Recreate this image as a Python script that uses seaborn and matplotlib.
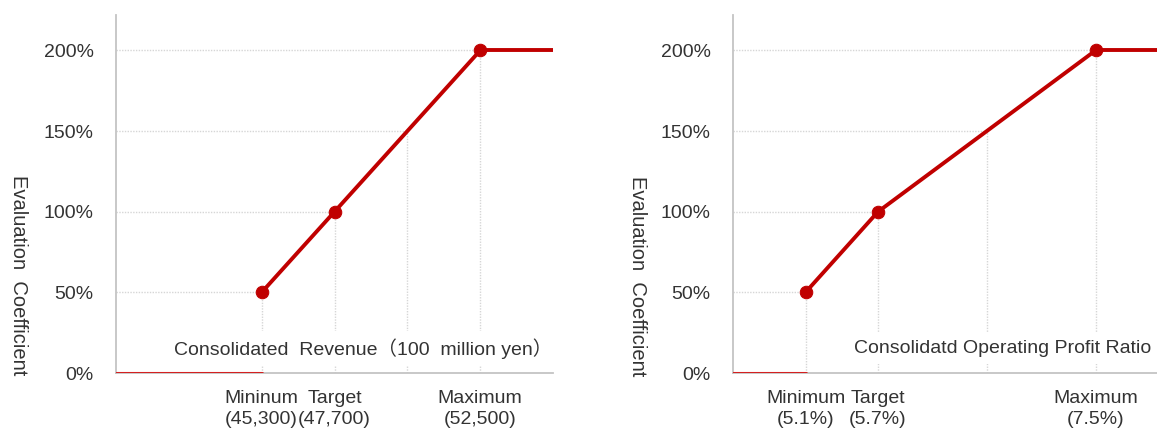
import numpy as np
import pandas as pd
import matplotlib
matplotlib.use("Agg")
import matplotlib.pyplot as plt
import matplotlib.transforms as mtransforms
import seaborn as sns

# ---- data ----
coeff = [50, 100, 200]
coeff_ticks = [0, 50, 100, 150, 200]
coeff_labels = ["0%", "50%", "100%", "150%", "200%"]

rev_x = [45300, 47700, 52500]
rev_xlim = [40500, 54900]
rev_ticks = [42900, 45300, 47700, 50100, 52500, 54900]
rev_ticklabels = ["", "Mininum\n(45,300)", "Target\n(47,700)", "", "Maximum\n(52,500)", ""]
rev_title = "Consolidated  Revenue（100  million yen）"

opr_x = [5.1, 5.7, 7.5]
opr_xlim = [4.5, 8.1]
opr_ticks = [5.1, 5.7, 6.3, 6.6, 6.9, 7.5, 8.1]
opr_ticklabels = ["Minimum\n(5.1%)", "Target\n(5.7%)", "", "", "", "Maximum\n(7.5%)", ""]
opr_title = "Consolidatd Operating Profit Ratio"

ylabel = "Evaluation  Coefficient"

# ---- style ----
sns.set_theme(style="white")
FAM = ["Liberation Sans", "Noto Sans CJK JP", "DejaVu Sans"]
plt.rcParams["font.family"] = FAM
RED = "#C00000"
GRID = "#D6D6D6"
SPINE = "#C4C4C4"
TXT = "#333333"
FS = 14

fig = plt.figure(figsize=(11.57, 4.32), dpi=100)
ax1 = fig.add_axes([116 / 1157, 1 - 373 / 432, (553 - 116) / 1157, (373 - 15) / 432])
ax2 = fig.add_axes([733 / 1157, 1 - 373 / 432, 435 / 1157, (373 - 15) / 432])


def panel(ax, xs, xlim, ticks, ticklabels, title, title_x):
    df = pd.DataFrame({"x": xs, "y": coeff})
    floor = pd.DataFrame({"x": [xlim[0], xs[0]], "y": [0, 0]})
    cap = pd.DataFrame({"x": [xs[-1], xlim[1]], "y": [coeff[-1], coeff[-1]]})
    mid_x = float(np.interp(150, coeff, xs))
    for px, py in list(zip(xs, coeff)) + [(mid_x, 150)]:
        ax.plot([xlim[0], px], [py, py], color=GRID, lw=1, ls=(0, (1, 1)), zorder=1)
        ax.plot([px, px], [0, py], color=GRID, lw=1, ls=(0, (1, 1)), zorder=1)
    sns.lineplot(data=floor, x="x", y="y", ax=ax, color="#D42020", lw=2.2, zorder=3)
    sns.lineplot(data=cap, x="x", y="y", ax=ax, color=RED, lw=2.8, zorder=3)
    sns.lineplot(data=df, x="x", y="y", ax=ax, color=RED, lw=2.8, marker="o",
                 markersize=9, markeredgecolor=RED, zorder=4)
    ax.set_xlim(xlim)
    ax.set_ylim(0, 222)
    ax.set_xticks(ticks)
    ax.set_xticklabels(ticklabels, fontsize=FS, color=TXT, family=FAM, linespacing=1.35)
    ax.set_yticks(coeff_ticks)
    ax.set_yticklabels(coeff_labels, fontsize=FS, color=TXT, family=FAM)
    ax.tick_params(axis="x", direction="in", length=4, width=1, color=SPINE, pad=12)
    ax.tick_params(axis="y", direction="in", length=4, width=1, color=SPINE, pad=16)
    for s in ["top", "right"]:
        ax.spines[s].set_visible(False)
    for s in ["left", "bottom"]:
        ax.spines[s].set_color(SPINE)
        ax.spines[s].set_linewidth(1.3)
    ax.set_xlabel("")
    ax.set_ylabel("")
    ax.text(title_x, 15, title,
            transform=mtransforms.blended_transform_factory(ax.transAxes, ax.transData),
            ha="center", va="center", fontsize=FS, color=TXT, family=FAM,
            bbox=dict(facecolor="white", edgecolor="none", pad=5), zorder=5)


panel(ax1, rev_x, rev_xlim, rev_ticks, rev_ticklabels, rev_title, 0.565)
panel(ax2, opr_x, opr_xlim, opr_ticks, opr_ticklabels, opr_title, 0.62)

fig.text(18 / 1157, 1 - 275 / 432, ylabel, rotation=270, ha="center", va="center",
         fontsize=14.5, color=TXT, family=FAM)
fig.text(638 / 1157, 1 - 276 / 432, ylabel, rotation=270, ha="center", va="center",
         fontsize=14.5, color=TXT, family=FAM)

fig.savefig("out.png", dpi=100, facecolor="white")
